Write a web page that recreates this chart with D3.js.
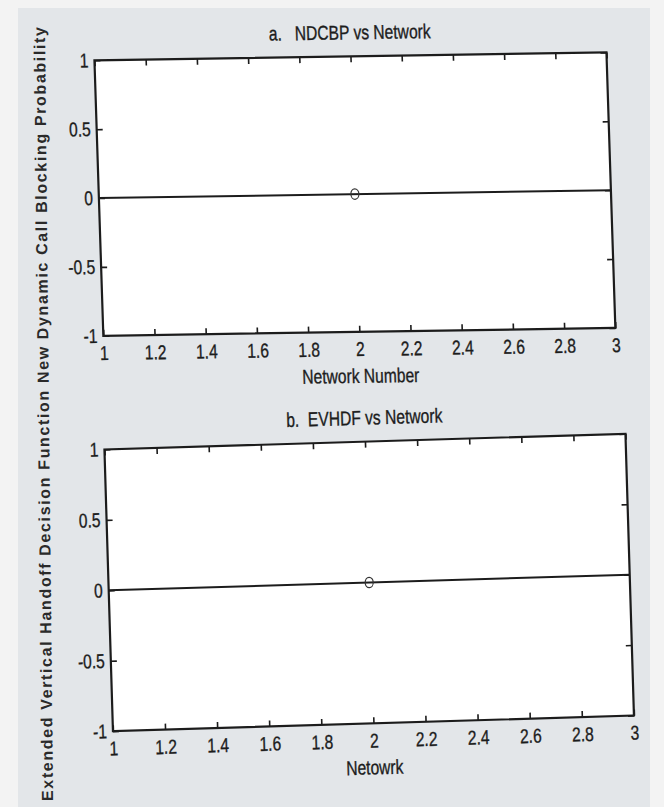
<!DOCTYPE html>
<html>
<head>
<meta charset="utf-8">
<script src="https://cdn.jsdelivr.net/npm/d3@7"></script>
<style>
  html, body { margin: 0; padding: 0; background: #f3f3f3; }
  svg { display: block; }
</style>
</head>
<body>
<svg id="chart" width="664" height="807"></svg>
<script>
// Axis ticks shared by both panels
const xTicks = [1, 1.2, 1.4, 1.6, 1.8, 2, 2.2, 2.4, 2.6, 2.8, 3];
const yTicks = [-1, -0.5, 0, 0.5, 1];
const xDomain = [1, 3];
const yDomain = [-1, 1];

// Panel a: new dynamic call blocking probability per network
const ndcbpLineX = [1, 3];
const ndcbpLineY = [0, 0];
const ndcbpPointX = [2];
const ndcbpPointY = [0];

// Panel b: extended vertical handoff decision function per network
const evhdfLineX = [1, 3];
const evhdfLineY = [0, 0];
const evhdfPointX = [2];
const evhdfPointY = [0];

const panelTitles = ["a.   NDCBP vs Network", "b.  EVHDF vs Network"];
const xLabels = ["Network Number", "Netowrk"];
const yLabel = "Extended Vertical Handoff Decision Function New Dynamic Call Blocking Probability";

// Page layout: each panel is drawn in its own frame and placed with an affine matrix
const layout = [
  { w: 512, h: 275.5, matrix: [1, -0.01543, 0.0323, 1, 94.45, 60.3] },
  { w: 521, h: 281.7, matrix: [1, -0.03015, 0.03017, 1, 104.45, 449.5] }
];

const sans = "'Liberation Sans', Arial, sans-serif";
const squeeze = 0.78;  // condensed lettering for axis text
const fontPx = "20px";
const ink = "#1c1c1c";

const svg = d3.select("#chart");

// figure background
svg.append("rect")
  .attr("x", 18).attr("y", 8)
  .attr("width", 632).attr("height", 799)
  .attr("fill", "#e3e6e9");

const series = [
  { lineX: ndcbpLineX, lineY: ndcbpLineY, ptX: ndcbpPointX, ptY: ndcbpPointY },
  { lineX: evhdfLineX, lineY: evhdfLineY, ptX: evhdfPointX, ptY: evhdfPointY }
];

const fmt = d => d3.format("~g")(d).replace("\u2212", "-");

// shared look of condensed axis text
const inkText = sel => sel
  .attr("fill", ink)
  .attr("stroke", ink).attr("stroke-width", 0.35)
  .style("font-family", sans)
  .style("font-size", fontPx);

// condensed text helper: text is placed at (x, y) and narrowed horizontally
function narrowText(parent, x, y, str) {
  return parent.append("g")
    .attr("transform", `translate(${x},${y}) scale(${squeeze},1)`)
    .append("text")
    .attr("text-anchor", "middle")
    .style("white-space", "pre")
    .call(inkText)
    .text(str);
}

series.forEach((s, i) => {
  const L = layout[i];
  const g = svg.append("g").attr("transform", `matrix(${L.matrix.join(",")})`);

  const x = d3.scaleLinear().domain(xDomain).range([0, L.w]);
  const y = d3.scaleLinear().domain(yDomain).range([L.h, 0]);

  // white plotting area
  g.append("rect").attr("width", L.w).attr("height", L.h).attr("fill", "#ffffff");

  const styleAxis = sel => {
    sel.select(".domain").remove();
    sel.selectAll(".tick line").attr("stroke", ink).attr("stroke-width", 1.6);
    sel.selectAll(".tick text").call(inkText);
  };

  const bottom = g.append("g").attr("transform", `translate(0,${L.h})`)
    .call(d3.axisBottom(x).tickValues(xTicks).tickFormat(fmt).tickSizeInner(-6).tickSizeOuter(0).tickPadding(10))
    .call(styleAxis);
  bottom.selectAll(".tick text").attr("transform", `scale(${squeeze},1)`);

  g.append("g")
    .call(d3.axisTop(x).tickValues(xTicks).tickFormat("").tickSizeInner(-6).tickSizeOuter(0))
    .call(styleAxis);

  const left = g.append("g")
    .call(d3.axisLeft(y).tickValues(yTicks).tickFormat(fmt).tickSizeInner(-6).tickSizeOuter(0).tickPadding(6))
    .call(styleAxis);
  left.selectAll(".tick text")
    .attr("x", -6 / squeeze)
    .attr("transform", `scale(${squeeze},1)`);

  g.append("g").attr("transform", `translate(${L.w},0)`)
    .call(d3.axisRight(y).tickValues(yTicks).tickFormat("").tickSizeInner(-6).tickSizeOuter(0))
    .call(styleAxis);

  // data line
  const pts = s.lineX.map((v, k) => [v, s.lineY[k]]);
  g.append("path")
    .datum(pts)
    .attr("d", d3.line().x(d => x(d[0])).y(d => y(d[1])))
    .attr("fill", "none").attr("stroke", ink).attr("stroke-width", 2);

  // circle marker
  g.selectAll("ellipse.marker")
    .data(s.ptX.map((v, k) => [v, s.ptY[k]]))
    .join("ellipse")
    .attr("class", "marker")
    .attr("cx", d => x(d[0])).attr("cy", d => y(d[1]))
    .attr("rx", 4).attr("ry", 5.2)
    .attr("fill", "none").attr("stroke", "#333").attr("stroke-width", 1.2);

  // axes box
  g.append("rect").attr("width", L.w).attr("height", L.h)
    .attr("fill", "none").attr("stroke", ink).attr("stroke-width", 2.2);

  // panel title and x axis label
  narrowText(g, L.w / 2, -17, panelTitles[i]);
  narrowText(g, L.w / 2, L.h + 51, xLabels[i]);
});

// shared y label
svg.append("text")
  .attr("transform", "translate(49,414) rotate(-90.6)")
  .attr("text-anchor", "middle")
  .attr("textLength", 774).attr("lengthAdjust", "spacing")
  .style("font-family", sans)
  .style("font-size", "16px")
  .style("font-weight", "bold")
  .attr("fill", "#2a2a2a")
  .text(yLabel);
</script>
</body>
</html>
